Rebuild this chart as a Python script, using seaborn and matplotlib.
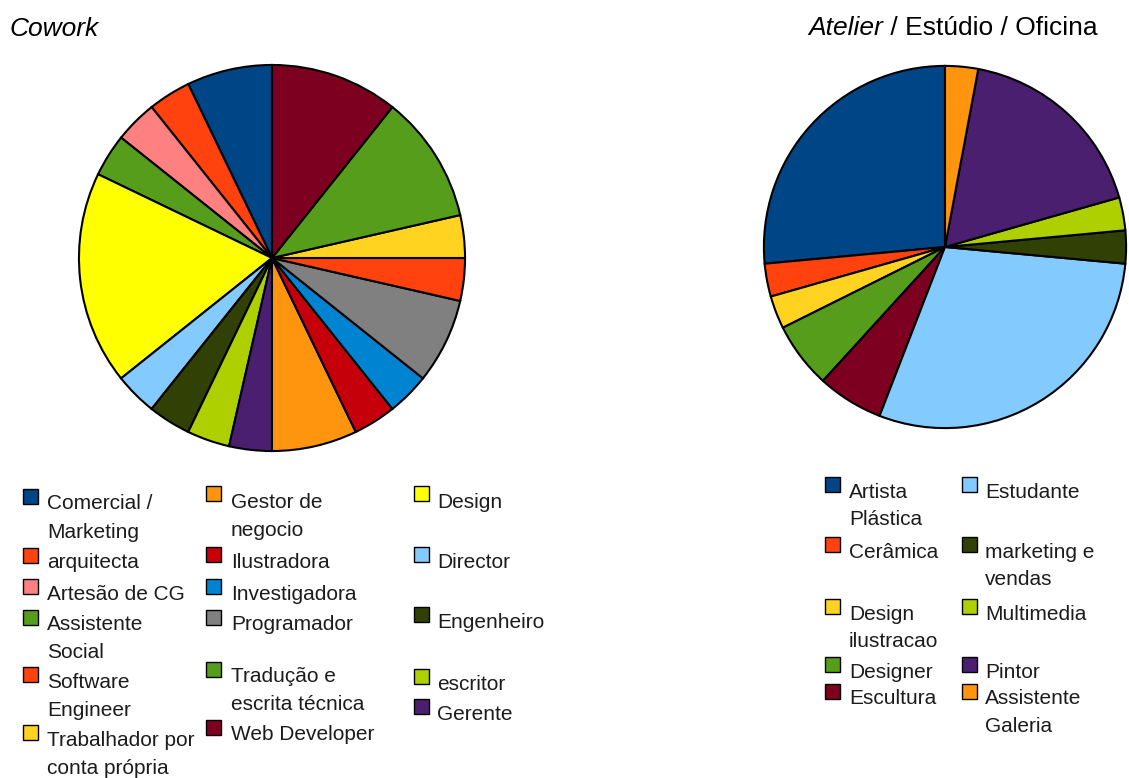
import matplotlib
matplotlib.use("Agg")
import matplotlib.pyplot as plt
from matplotlib.patches import Rectangle
import seaborn as sns

# ---- data ---------------------------------------------------------------
cowork_labels = [
    "Comercial /\nMarketing", "arquitecta", "Artesão de CG", "Assistente\nSocial",
    "Design", "Director", "Engenheiro", "escritor", "Gerente",
    "Gestor de\nnegocio", "Ilustradora", "Investigadora", "Programador",
    "Software\nEngineer", "Trabalhador por\nconta própria",
    "Tradução e\nescrita técnica", "Web Developer",
]
cowork_values = [2, 1, 1, 1, 5, 1, 1, 1, 1, 2, 1, 1, 2, 1, 1, 3, 3]
cowork_colors = [
    "#004586", "#ff420e", "#ff8080", "#579d1c", "#ffff00", "#83caff",
    "#314004", "#aecf00", "#4b1f6f", "#ff950e", "#c5000b", "#0084d1",
    "#808080", "#ff420e", "#ffd320", "#579d1c", "#7e0021",
]

atelier_labels = [
    "Artista\nPlástica", "Cerâmica", "Design\nilustracao", "Designer",
    "Escultura", "Estudante", "marketing e\nvendas", "Multimedia",
    "Pintor", "Assistente\nGaleria",
]
atelier_values = [9, 1, 1, 2, 2, 10, 1, 1, 6, 1]
atelier_colors = [
    "#004586", "#ff420e", "#ffd320", "#579d1c", "#7e0021",
    "#83caff", "#314004", "#aecf00", "#4b1f6f", "#ff950e",
]

title_left = "Cowork"
title_right_italic = "Atelier"
title_right_rest = " / Estúdio / Oficina"

# ---- style --------------------------------------------------------------
sns.set_theme(style="white")
plt.rcParams["font.family"] = ["Liberation Sans", "DejaVu Sans"]

W, H = 1129, 778
fig = plt.figure(figsize=(W / 100, H / 100), dpi=100)
fig.patch.set_facecolor("white")
TXT = "#1c1c1c"


def box(x0, y0, x1, y1):
    """Pixel box (top-left origin) -> figure fraction rect."""
    return [x0 / W, 1 - y1 / H, (x1 - x0) / W, (y1 - y0) / H]


def draw_pie(rect, values, colors):
    ax = fig.add_axes(rect)
    ax.pie(values, colors=sns.color_palette(colors), startangle=90,
           counterclock=True, radius=1.0,
           wedgeprops=dict(edgecolor="black", linewidth=1.5))
    ax.set_xlim(-1.005, 1.005)
    ax.set_ylim(-1.005, 1.005)
    ax.set_aspect("equal")
    ax.axis("off")
    return ax


draw_pie(box(77, 64, 467, 452), cowork_values, cowork_colors)
draw_pie(box(763, 65, 1127, 429), atelier_values, atelier_colors)

# ---- titles -------------------------------------------------------------
fig.text(10 / W, 1 - 36 / H, title_left, fontsize=19, fontstyle="italic",
         color="black", ha="left", va="baseline")
rest = fig.text(1098 / W, 1 - 35 / H, title_right_rest, fontsize=19,
                color="black", ha="right", va="baseline")
fig.canvas.draw()
x_start = rest.get_window_extent().x0 / fig.bbox.width
fig.text(x_start, 1 - 35 / H, title_right_italic, fontsize=19,
         fontstyle="italic", color="black", ha="right", va="baseline")


# ---- legends ------------------------------------------------------------
def legend_column(labels, colors, order, sq_x, txt_x, baselines, step):
    for idx, yb in zip(order, baselines):
        fig.add_artist(Rectangle(((sq_x) / W, 1 - (yb - 6) / H), 15 / W, 15 / H,
                                 transform=fig.transFigure,
                                 facecolor=colors[idx], edgecolor="black",
                                 linewidth=1.0))
        for k, line in enumerate(labels[idx].split("\n")):
            fig.text(txt_x / W, 1 - (yb + k * step) / H, line, fontsize=15,
                     color=TXT, ha="left", va="baseline")


legend_column(cowork_labels, cowork_colors, [0, 1, 2, 3, 13, 14],
              23, 47, [509.5, 568.5, 599.5, 630.5, 687.5, 745.5], 28)
legend_column(cowork_labels, cowork_colors, [9, 10, 11, 12, 15, 16],
              206, 231, [507.5, 567.5, 599.5, 630.5, 682.5, 740.5], 28)
legend_column(cowork_labels, cowork_colors, [4, 5, 6, 7, 8],
              414, 437, [507.5, 567.5, 627.5, 689.5, 719.5], 28)

legend_column(atelier_labels, atelier_colors, [0, 1, 2, 3, 4],
              825, 849, [497.5, 557.5, 619.5, 677.5, 704.5], 27.5)
legend_column(atelier_labels, atelier_colors, [5, 6, 7, 8, 9],
              962, 985, [497.5, 557.5, 619.5, 677.5, 704.5], 27.5)

fig.savefig("out.png", dpi=100, facecolor="white")
